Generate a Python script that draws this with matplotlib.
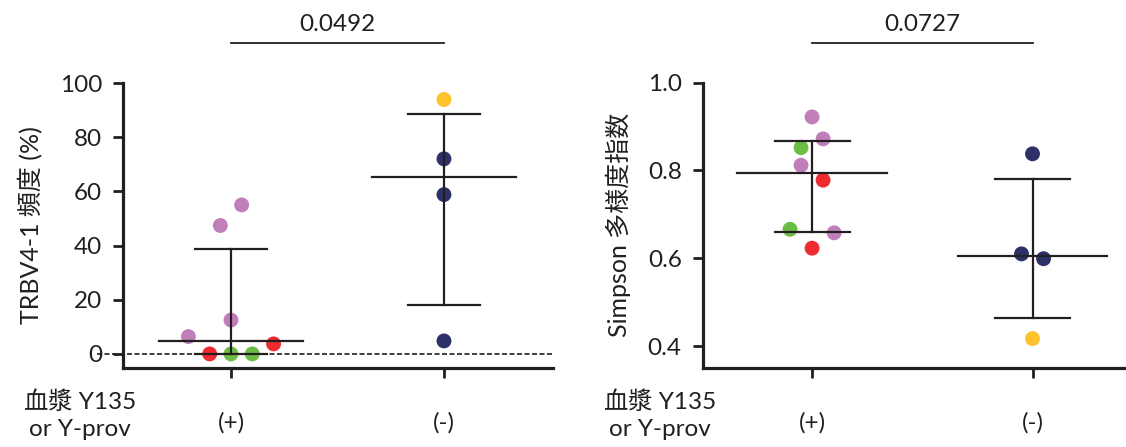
import numpy as np
import matplotlib.pyplot as plt
import matplotlib.transforms as mtransforms

plt.rcParams['font.family'] = ['Lato', 'Noto Sans CJK JP', 'DejaVu Sans']

groups = ['(+)', '(-)']
row_label = '血漿 Y135\nor Y-prov'

PINK = '#c07fbb'
RED = '#ee2b2e'
GREEN = '#6cbd45'
NAVY = '#2d3168'
YELLOW = '#fdc22c'
INK = '#231f20'
FS = 17.5

# TRBV4-1 frequency (%)
trbv_pos = [6.4, 0.0, 0.0, 0.0, 3.7, 12.5, 47.4, 55.0]
trbv_pos_colors = [PINK, RED, GREEN, GREEN, RED, PINK, PINK, PINK]
trbv_pos_jitter = [-0.2, -0.1, 0.0, 0.1, 0.2, 0.0, -0.05, 0.05]
trbv_neg = [93.9, 72.0, 58.8, 4.8]
trbv_neg_colors = [YELLOW, NAVY, NAVY, NAVY]
trbv_neg_jitter = [0, 0, 0, 0]
trbv_center = [4.9, 65.4]
trbv_low = [0.0, 18.2]
trbv_high = [38.7, 88.4]
trbv_p = '0.0492'

# Simpson diversity index
simp_pos = [0.922, 0.872, 0.852, 0.812, 0.778, 0.666, 0.658, 0.623]
simp_pos_colors = [PINK, PINK, GREEN, PINK, RED, GREEN, PINK, RED]
simp_pos_jitter = [0.0, 0.05, -0.05, -0.05, 0.05, -0.1, 0.1, 0.0]
simp_neg = [0.838, 0.610, 0.599, 0.417]
simp_neg_colors = [NAVY, NAVY, NAVY, YELLOW]
simp_neg_jitter = [0.0, -0.05, 0.05, 0.0]
simp_center = [0.795, 0.605]
simp_low = [0.660, 0.463]
simp_high = [0.868, 0.781]
simp_p = '0.0727'

fig = plt.figure(figsize=(11.26, 4.47), dpi=100)
ax1 = fig.add_axes([123 / 1126, 79 / 447, 430 / 1126, 285 / 447])
ax2 = fig.add_axes([702.5 / 1126, 79 / 447, 423.5 / 1126, 285.3 / 447])


def draw_panel(ax, pos, pos_c, pos_j, neg, neg_c, neg_j, center, low, high, pval):
    xs = [1, 2]
    for x, vals, cols, jit in [(1, pos, pos_c, pos_j), (2, neg, neg_c, neg_j)]:
        ax.scatter(np.array(jit) + x, vals, s=115, c=cols, zorder=3, linewidths=0)
    for x, c, lo, hi in zip(xs, center, low, high):
        ax.plot([x, x], [lo, hi], color=INK, lw=1.6, zorder=4)
        ax.plot([x - 0.34, x + 0.34], [c, c], color=INK, lw=1.6, zorder=4)
        ax.plot([x - 0.17, x + 0.17], [lo, lo], color=INK, lw=1.6, zorder=4)
        ax.plot([x - 0.17, x + 0.17], [hi, hi], color=INK, lw=1.6, zorder=4)

    for side in ['top', 'right']:
        ax.spines[side].set_visible(False)
    for side in ['left', 'bottom']:
        ax.spines[side].set_linewidth(2.3)
        ax.spines[side].set_color(INK)
    ax.tick_params(axis='both', width=2.0, length=7, color=INK, labelsize=FS,
                   labelcolor=INK)
    ax.tick_params(axis='y', pad=8)
    ax.set_xticks(xs)
    ax.set_xticklabels(groups)
    ax.tick_params(axis='x', pad=25)

    # significance bracket above the two groups
    trans = mtransforms.blended_transform_factory(ax.transData, ax.transAxes)
    ax.plot([1, 2], [1.14, 1.14], color=INK, lw=1.3, transform=trans, clip_on=False)
    ax.text(1.5, 1.205, pval, transform=trans, ha='center', va='center',
            fontsize=FS, color=INK)


draw_panel(ax1, trbv_pos, trbv_pos_colors, trbv_pos_jitter,
           trbv_neg, trbv_neg_colors, trbv_neg_jitter,
           trbv_center, trbv_low, trbv_high, trbv_p)
# dashed zero reference, running from the tick end across the panel
ax1.plot([-0.06, 1.0], [0, 0], color=INK, lw=1.2, ls=(0, (3, 1.5)), zorder=2,
         transform=mtransforms.blended_transform_factory(ax1.transAxes, ax1.transData),
         clip_on=False)
ax1.set_xlim(0.493, 2.512)
ax1.set_ylim(-5.2, 100)
ax1.set_yticks([0, 20, 40, 60, 80, 100])
ax1.spines['left'].set_bounds(-5.2, 100)
ax1.set_ylabel('TRBV4-1 頻度 (%)', fontsize=FS + 0.5, color=INK, labelpad=12)

draw_panel(ax2, simp_pos, simp_pos_colors, simp_pos_jitter,
           simp_neg, simp_neg_colors, simp_neg_jitter,
           simp_center, simp_low, simp_high, simp_p)
ax2.set_xlim(0.503, 2.424)
ax2.set_ylim(0.35, 1.0)
ax2.set_yticks([0.4, 0.6, 0.8, 1.0])
ax2.set_yticklabels(['0.4', '0.6', '0.8', '1.0'])
ax2.set_ylabel('Simpson 多様度指数', fontsize=FS + 0.5, color=INK, labelpad=12)

for xc in [80, 660]:
    fig.text(xc / 1126, 1 - 415 / 447, row_label, ha='center', va='center',
             fontsize=FS, color=INK, linespacing=1.35)

fig.savefig('out.png', dpi=100)
